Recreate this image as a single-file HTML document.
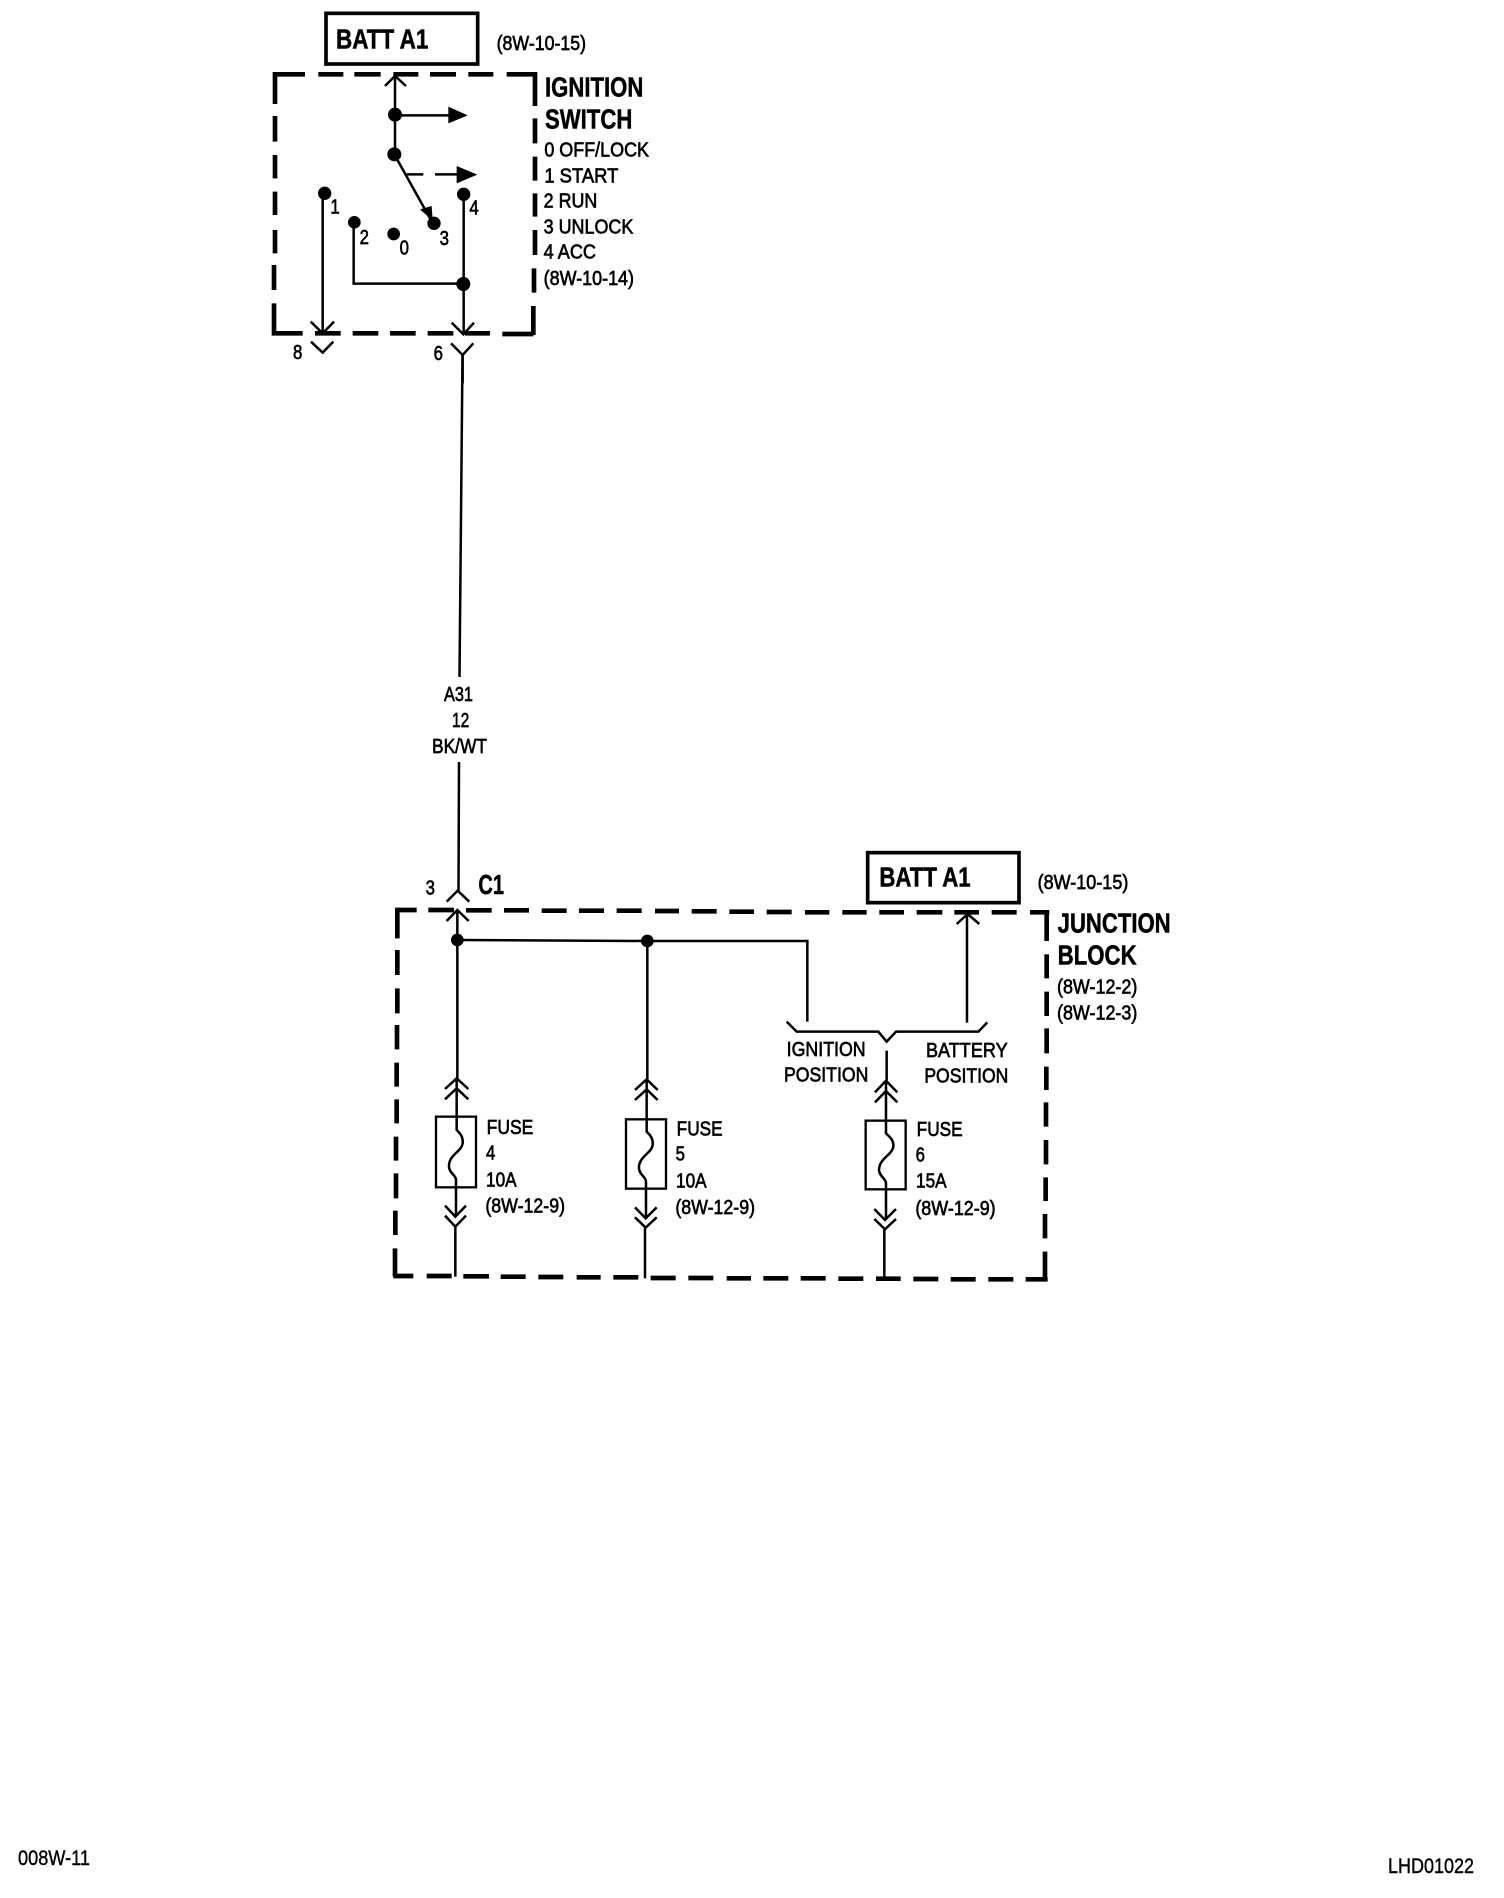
<!DOCTYPE html>
<html>
<head>
<meta charset="utf-8">
<style>
html,body{margin:0;padding:0;background:#fff}
svg{display:block}
text{font-family:"Liberation Sans",Arial,sans-serif;fill:#000}
.r{font-size:62px;stroke:#000;stroke-width:2px}
.b{font-size:82px;font-weight:bold;stroke:#000;stroke-width:1.500px}
.d{fill:none;stroke:#000;stroke-width:14}
.l{fill:none;stroke:#000;stroke-width:7.500}
</style>
</head>
<body>
<svg width="1504" height="1898" viewBox="0 0 1504 1898" xmlns="http://www.w3.org/2000/svg">
<rect width="1504" height="1898" fill="#fff"/>

<!-- Ignition switch -->
<g transform="translate(250,0) scale(0.33333)">
<rect x="228" y="40" width="455" height="152" fill="none" stroke="#000" stroke-width="11"/>
<text class="b" x="258" y="145" textLength="277" lengthAdjust="spacingAndGlyphs">BATT A1</text>
<text class="r" x="740" y="150" textLength="268" lengthAdjust="spacingAndGlyphs">(8W-10-15)</text>
<path class="d" d="M68 223H165M205 223H280M313 223H392M430 223H505M540 223H618M655 223H730M770 223H862
M855 223V318M855 355V430M855 470V542M855 580V650M855 690V765M852 805V878M850 918V1005
M75 223V312M75 348V425M75 465V535M75 575V645M75 690V760M72 795V870M72 910V1005
M65 1000H158M195 1000H272M308 1000H385M420 1000H497M533 1000H610M645 1000H720M757 1002H850"/>
<path class="l" d="M435 223V465M405 258L435 228L468 258"/>
<circle cx="435" cy="344" r="21"/><circle cx="433" cy="463" r="21"/>
<path class="l" d="M435 346H600"/><path d="M595 320L653 346L595 370Z"/>
<path class="l" d="M433 463L540 655"/><path d="M510 628L545 618L548 662Z"/>
<circle cx="552" cy="670" r="20"/>
<path class="l" d="M470 523H520M555 523H625"/><path d="M620 498L682 524L620 550Z"/>
<circle cx="224" cy="580" r="20"/><path class="l" d="M218 590V1000M182 965L218 1000L252 965"/>
<circle cx="313" cy="667" r="19"/><path class="l" d="M311 667V851H640"/>
<circle cx="641" cy="583" r="20"/><path class="l" d="M641 583V1000M605 968L640 1003L672 968"/>
<circle cx="640" cy="852" r="21"/><circle cx="431" cy="702" r="19"/>
<path class="l" d="M183 1025L218 1058L250 1025M603 1030L638 1065L670 1030M638 1065V1150"/>
<text class="r" x="241" y="640" textLength="28" lengthAdjust="spacingAndGlyphs">1</text>
<text class="r" x="658" y="643" textLength="28" lengthAdjust="spacingAndGlyphs">4</text>
<text class="r" x="329" y="732" textLength="28" lengthAdjust="spacingAndGlyphs">2</text>
<text class="r" x="449" y="763" textLength="28" lengthAdjust="spacingAndGlyphs">0</text>
<text class="r" x="569" y="735" textLength="28" lengthAdjust="spacingAndGlyphs">3</text>
<text class="r" x="129" y="1077" textLength="28" lengthAdjust="spacingAndGlyphs">8</text>
<text class="r" x="551" y="1080" textLength="28" lengthAdjust="spacingAndGlyphs">6</text>
<text class="b" x="885" y="290" textLength="295" lengthAdjust="spacingAndGlyphs">IGNITION</text>
<text class="b" x="885" y="385" textLength="262" lengthAdjust="spacingAndGlyphs">SWITCH</text>
<text class="r" x="883" y="470" textLength="314" lengthAdjust="spacingAndGlyphs">0 OFF/LOCK</text>
<text class="r" x="883" y="547" textLength="222" lengthAdjust="spacingAndGlyphs">1 START</text>
<text class="r" x="881" y="623" textLength="161" lengthAdjust="spacingAndGlyphs">2 RUN</text>
<text class="r" x="881" y="700" textLength="269" lengthAdjust="spacingAndGlyphs">3 UNLOCK</text>
<text class="r" x="881" y="775" textLength="157" lengthAdjust="spacingAndGlyphs">4 ACC</text>
<text class="r" x="881" y="855" textLength="271" lengthAdjust="spacingAndGlyphs">(8W-10-14)</text>
</g>

<!-- Main wire -->
<path d="M462.500 355L459.500 677M459 762L458.500 892" fill="none" stroke="#000" stroke-width="2.500"/>
<g transform="scale(0.33333)">
<text class="r" x="1332" y="2103" textLength="87" lengthAdjust="spacingAndGlyphs">A31</text>
<text class="r" x="1356" y="2181" textLength="52" lengthAdjust="spacingAndGlyphs">12</text>
<text class="r" x="1296" y="2259" textLength="165" lengthAdjust="spacingAndGlyphs">BK/WT</text>
</g>

<!-- Junction block -->
<g transform="translate(380,840) scale(0.33333)">
<text class="r" x="137" y="163" textLength="28" lengthAdjust="spacingAndGlyphs">3</text>
<text class="b" x="295" y="162" textLength="77" lengthAdjust="spacingAndGlyphs">C1</text>
<path class="l" d="M200 185L233 152L268 185"/>
<path class="d" d="M45 210H110M145 210H222M258 211H335M372 211H447M485 212H560M597 212H672M710 212H785M825 213H897M935 214H1010M1048 215H1122M1160 216H1235M1275 217H1348M1387 217H1460M1498 217H1572M1610 217H1687M1723 217H1797M1835 217H1910M1950 217H2008
M52 207V295M52 330V405M52 445V520M51 555V628M50 668V740M50 778V850M48 890V962M48 1000V1075M46 1112V1185M45 1225V1310
M40 1308H100M140 1308H215M250 1309H327M362 1310H437M475 1311H550M590 1312H662M700 1312H775M812 1314H887M925 1314H1000M1040 1315H1113M1150 1315H1225M1262 1315H1337M1375 1316H1450M1488 1316H1562M1600 1317H1675M1712 1318H1787M1825 1318H1900M1937 1318H2003
M2000 217V303M2000 343V415M2000 455V528M2000 565V640M1999 680V750M1998 787V860M1998 900V973M1997 1012V1083M1995 1122V1195M1995 1235V1323"/>

<path class="l" d="M232 210V715M200 243L232 210L266 243"/>
<circle cx="232" cy="300" r="19"/>
<path class="l" d="M232 300L802 303H1282V545"/>
<circle cx="802" cy="303" r="19"/>
<path class="l" d="M802 303V720"/>

<!-- Fuse 4 -->
<rect x="168" y="830" width="120" height="212" fill="none" stroke="#000" stroke-width="7"/>
<path class="l" d="M195 747L230 715L265 747M195 778L230 745L265 778M230 715V870C240 880 250 890 248 910C245 935 205 945 207 980C208 1000 228 1005 228 1020V1130M195 1097L226 1130L258 1097M195 1127L226 1160L258 1127M226 1160V1310"/>
<text class="r" x="320" y="882" textLength="140" lengthAdjust="spacingAndGlyphs">FUSE</text>
<text class="r" x="318" y="958" textLength="28" lengthAdjust="spacingAndGlyphs">4</text>
<text class="r" x="318" y="1040" textLength="92" lengthAdjust="spacingAndGlyphs">10A</text>
<text class="r" x="316" y="1118" textLength="239" lengthAdjust="spacingAndGlyphs">(8W-12-9)</text>

<!-- Fuse 5 -->
<rect x="738" y="838" width="120" height="208" fill="none" stroke="#000" stroke-width="7"/>
<path class="l" d="M765 750L800 718L833 750M765 780L800 748L833 780M800 718V875C810 885 820 895 818 915C815 940 775 950 777 985C778 1005 798 1010 798 1025V1135M765 1102L797 1135L830 1102M765 1132L797 1163L830 1132M795 1163V1315"/>
<text class="r" x="890" y="886" textLength="138" lengthAdjust="spacingAndGlyphs">FUSE</text>
<text class="r" x="887" y="962" textLength="28" lengthAdjust="spacingAndGlyphs">5</text>
<text class="r" x="888" y="1042" textLength="92" lengthAdjust="spacingAndGlyphs">10A</text>
<text class="r" x="886" y="1122" textLength="239" lengthAdjust="spacingAndGlyphs">(8W-12-9)</text>

<g transform="translate(1200,0)">
<rect x="263" y="38" width="454" height="150" fill="none" stroke="#000" stroke-width="11"/>
<text class="b" x="298" y="140" textLength="274" lengthAdjust="spacingAndGlyphs">BATT A1</text>
<text class="r" x="773" y="147" textLength="272" lengthAdjust="spacingAndGlyphs">(8W-10-15)</text>
<text class="b" x="833" y="277" textLength="339" lengthAdjust="spacingAndGlyphs">JUNCTION</text>
<text class="b" x="833" y="373" textLength="237" lengthAdjust="spacingAndGlyphs">BLOCK</text>
<text class="r" x="831" y="460" textLength="241" lengthAdjust="spacingAndGlyphs">(8W-12-2)</text>
<text class="r" x="831" y="538" textLength="241" lengthAdjust="spacingAndGlyphs">(8W-12-3)</text>
<path class="l" d="M20 545L50 575H295L320 605L348 575H595L622 547M561 222V548M530 252L563 222L598 252"/>
<text class="r" x="20" y="648" textLength="237" lengthAdjust="spacingAndGlyphs">IGNITION</text>
<text class="r" x="12" y="725" textLength="253" lengthAdjust="spacingAndGlyphs">POSITION</text>
<text class="r" x="438" y="651" textLength="245" lengthAdjust="spacingAndGlyphs">BATTERY</text>
<text class="r" x="433" y="728" textLength="252" lengthAdjust="spacingAndGlyphs">POSITION</text>
<!-- Fuse 6 -->
<rect x="257" y="842" width="120" height="206" fill="none" stroke="#000" stroke-width="7"/>
<path class="l" d="M320 632V722M285 757L318 722L352 757M285 787L318 753L352 787M318 722V880C328 890 342 900 340 920C337 945 297 955 297 990C298 1010 318 1015 318 1030V1140M283 1107L315 1140L348 1107M283 1137L315 1168L348 1137M313 1168V1318"/>
<text class="r" x="410" y="888" textLength="138" lengthAdjust="spacingAndGlyphs">FUSE</text>
<text class="r" x="407" y="965" textLength="28" lengthAdjust="spacingAndGlyphs">6</text>
<text class="r" x="408" y="1043" textLength="92" lengthAdjust="spacingAndGlyphs">15A</text>
<text class="r" x="406" y="1125" textLength="241" lengthAdjust="spacingAndGlyphs">(8W-12-9)</text>
</g>
</g>

<!-- Footer -->
<text x="18" y="1865" font-size="21" stroke="#000" stroke-width="0.400" textLength="72" lengthAdjust="spacingAndGlyphs">008W-11</text>
<text x="1388" y="1873" font-size="21" stroke="#000" stroke-width="0.400" textLength="86" lengthAdjust="spacingAndGlyphs">LHD01022</text>
</svg>
</body>
</html>
